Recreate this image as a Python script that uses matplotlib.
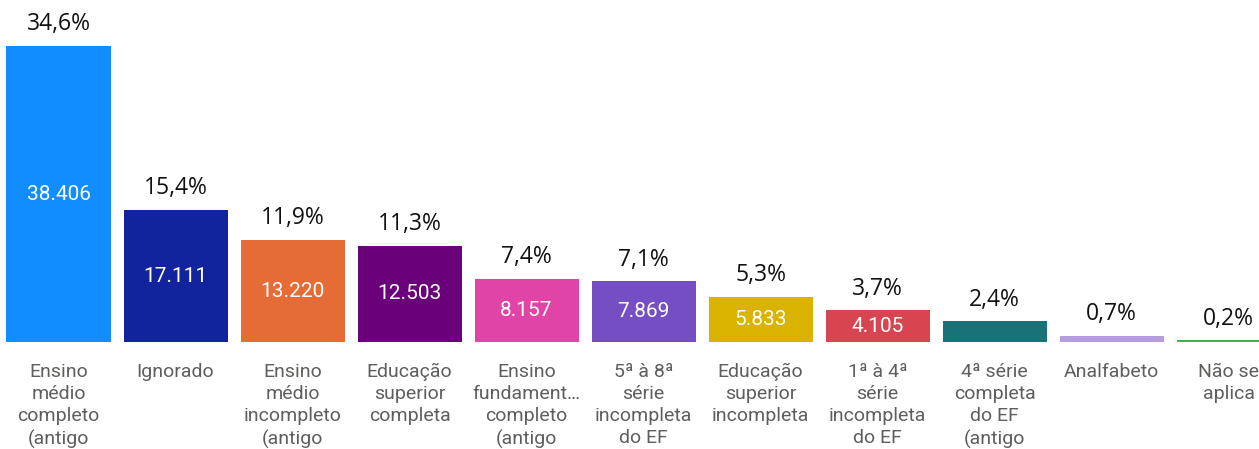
import numpy as np
import matplotlib.pyplot as plt

# dados do grafico (escolaridade)
categorias = ["Ensino\nmédio\ncompleto\n(antigo", "Ignorado", "Ensino\nmédio\nincompleto\n(antigo",
              "Educação\nsuperior\ncompleta", "Ensino\nfundament…\ncompleto\n(antigo",
              "5ª à 8ª\nsérie\nincompleta\ndo EF", "Educação\nsuperior\nincompleta",
              "1ª à 4ª\nsérie\nincompleta\ndo EF", "4ª série\ncompleta\ndo EF\n(antigo",
              "Analfabeto", "Não se\naplica"]
valores = [38406, 17111, 13220, 12503, 8157, 7869, 5833, 4105, 2660, 777, 222]
percentuais = [34.6, 15.4, 11.9, 11.3, 7.4, 7.1, 5.3, 3.7, 2.4, 0.7, 0.2]
cores = ["#118DFF", "#12239E", "#E66C37", "#6B007B", "#E044A7", "#744EC2",
         "#D9B300", "#D64550", "#197278", "#B39DE0", "#3DB54A"]

fig = plt.figure(figsize=(12.59, 4.49), dpi=100)
ax = fig.add_axes([0, 107/449, 1, 342/449])
x = np.arange(len(valores))
ax.bar(x, valores, width=0.889, color=cores)
ax.set_xlim(-0.5, 10.26)
ax.set_ylim(0, max(valores)*342/296)
ax.axis("off")

for i in range(len(valores)):
    v = valores[i]
    ax.annotate(f"{percentuais[i]:.1f}%".replace(".", ","), (i, v), xytext=(0, 7),
                textcoords="offset points", ha="center", va="bottom",
                fontsize=16.5, family="Open Sans", color="#111111", annotation_clip=False)
    if v > 3000:
        ax.text(i, v/2, f"{v:,}".replace(",", "."), ha="center", va="center",
                fontsize=15, family="Roboto", color="white")
    ax.annotate(categorias[i], (i, 0), xytext=(0, -15), textcoords="offset points",
                ha="center", va="top", fontsize=14, family="Roboto", color="#605E5C",
                linespacing=1.3, annotation_clip=False)

plt.savefig("out.png", dpi=100)
